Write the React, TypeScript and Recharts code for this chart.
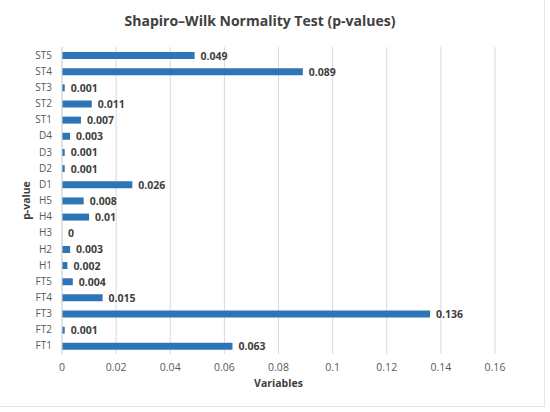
import { BarChart, Bar, XAxis, YAxis, CartesianGrid, LabelList, Label } from 'recharts'

// bottom to top, as in the picture
const variables = ['FT1', 'FT2', 'FT3', 'FT4', 'FT5', 'H1', 'H2', 'H3', 'H4', 'H5', 'D1', 'D2', 'D3', 'D4', 'ST1', 'ST2', 'ST3', 'ST4', 'ST5']
const pValues = [0.063, 0.001, 0.136, 0.015, 0.004, 0.002, 0.003, 0, 0.01, 0.008, 0.026, 0.001, 0.001, 0.003, 0.007, 0.011, 0.001, 0.089, 0.049]
const xTicks = [0, 0.02, 0.04, 0.06, 0.08, 0.1, 0.12, 0.14, 0.16]

const data = variables.map((name, i) => ({ name, p: pValues[i] }))

const font = 'Open Sans, sans-serif'

// custom so the zero-width H3 bar still gets its "0"
const ValueLabel = (props: any) => {
  const { x, y, width, height, value } = props
  return (
    <text
      x={Number(x) + Number(width || 0) + 6} y={Number(y) + Number(height) / 2}
      dominantBaseline="central" fill="#404040" fontSize={10.5} fontWeight={700} fontFamily={font}
    >{value}</text>
  )
}

export default function App() {
  return (
    <div style={{ position: 'absolute', left: 0, top: 0, width: 550, height: 412, background: '#fff', fontFamily: font }}>
      <div style={{
        position: 'absolute', left: 0, top: 0, width: 545, height: 407,
        borderRight: '1px solid #e6e6e6', borderBottom: '1px solid #e6e6e6', boxSizing: 'border-box',
      }} />
      <div style={{
        position: 'absolute', top: 11, left: 0, width: 520, textAlign: 'center',
        fontSize: 14, fontWeight: 700, color: '#404040',
      }}>
        Shapiro–Wilk Normality Test (p-values)
      </div>
      <BarChart
        width={550} height={412} data={data} layout="vertical"
        margin={{ top: 47, right: 55, bottom: 20, left: 0 }}
        barCategoryGap={4}
        style={{ position: 'absolute', left: 0, top: 0 }}
      >
        <CartesianGrid horizontal={false} stroke="#d9d9d9" />
        <XAxis
          type="number" domain={[0, 0.16]} ticks={xTicks} interval={0}
          tickLine={false} axisLine={false} height={38} tickMargin={4}
          tick={{ fill: '#595959', fontSize: 10.5, fontFamily: font }}
        >
          <Label value="Variables" position="insideBottom" offset={5}
            style={{ fill: '#404040', fontSize: 10.5, fontWeight: 700, fontFamily: font }} />
        </XAxis>
        <YAxis
          type="category" dataKey="name" reversed width={62} interval={0}
          tickLine={false} axisLine={{ stroke: '#d9d9d9' }} tickMargin={4}
          tick={{ fill: '#595959', fontSize: 10, fontFamily: font }}
        >
          <Label
            content={({ viewBox }: any) => (
              <text
                x={30} y={viewBox.y + viewBox.height / 2}
                transform={`rotate(-90, 30, ${viewBox.y + viewBox.height / 2})`}
                textAnchor="middle" fill="#404040" fontSize={10.5} fontWeight={700} fontFamily={font}
              >p-value</text>
            )}
          />
        </YAxis>
        <Bar dataKey="p" fill="#2E75B6" barSize={7} minPointSize={0.01} isAnimationActive={false}>
          <LabelList dataKey="p" content={ValueLabel} />
        </Bar>
      </BarChart>
    </div>
  )
}
